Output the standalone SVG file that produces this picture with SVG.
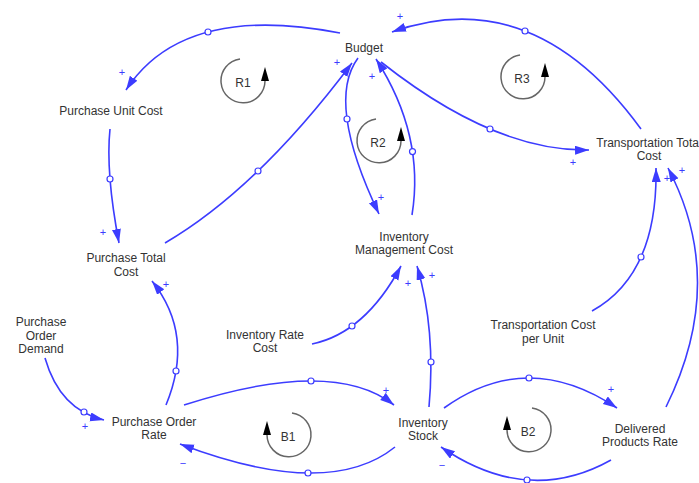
<svg xmlns="http://www.w3.org/2000/svg" width="699" height="483" viewBox="0 0 699 483">
<defs>
<style>
.lbl{font-family:"Liberation Sans",Arial,sans-serif;font-size:12px;fill:#333;text-anchor:middle}
.lk{fill:none;stroke:#3c3cff;stroke-width:1.6;marker-end:url(#arr)}
.dot{fill:#fff;stroke:#3c3cff;stroke-width:1.2}
.pol{font-family:"Liberation Sans",Arial,sans-serif;font-size:11px;fill:#3c3cff;text-anchor:middle}
.loop{fill:none;stroke:#666;stroke-width:1.5}
.lh{fill:#000}
</style>
<marker id="arr" markerUnits="userSpaceOnUse" markerWidth="15" markerHeight="10" refX="14" refY="4.5" orient="auto">
<path d="M0,0 L14,4.5 L0,9 z" fill="#3c3cff"/>
</marker>
</defs>
<rect width="699" height="483" fill="#fff"/>
<g id="connectors">
<path class="lk" d="M340,33 Q183,2.5 126,90"/>
<path class="lk" d="M110,129 Q105.5,172 119,243"/>
<path class="lk" d="M165,243 Q257.5,189 352,63"/>
<path class="lk" d="M358,58 Q325.5,102 379,214"/>
<path class="lk" d="M412,215 Q425,135 376,59"/>
<path class="lk" d="M381,62 Q495,152 589,150"/>
<path class="lk" d="M641,129 Q533.5,-18.5 392,32"/>
<path class="lk" d="M592,311 Q658,274.5 656,168"/>
<path class="lk" d="M666,407 Q728,282 668,168"/>
<path class="lk" d="M45,358 Q60,410 104,420"/>
<path class="lk" d="M166,405 Q195,335 152,281"/>
<path class="lk" d="M184,405 Q333,357 394,405"/>
<path class="lk" d="M395,447 Q328.5,500.5 180,444"/>
<path class="lk" d="M312,344 Q365,333 401,266"/>
<path class="lk" d="M429,407 Q436,330 417,266"/>
<path class="lk" d="M444,408 Q527.5,348 617,408"/>
<path class="lk" d="M611,460 Q528,506.5 441,447"/>
<circle class="dot" cx="208" cy="32" r="3"/>
<circle class="dot" cx="110" cy="179" r="3"/>
<circle class="dot" cx="258" cy="171" r="3"/>
<circle class="dot" cx="347" cy="119" r="3"/>
<circle class="dot" cx="412.5" cy="151.6" r="3"/>
<circle class="dot" cx="490" cy="129" r="3"/>
<circle class="dot" cx="525" cy="31" r="3"/>
<circle class="dot" cx="641" cy="257" r="3"/>
<circle class="dot" cx="84" cy="412" r="3"/>
<circle class="dot" cx="176" cy="371" r="3"/>
<circle class="dot" cx="311" cy="381" r="3"/>
<circle class="dot" cx="308" cy="473" r="3"/>
<circle class="dot" cx="352" cy="326" r="3"/>
<circle class="dot" cx="431" cy="362" r="3"/>
<circle class="dot" cx="529" cy="378" r="3"/>
<circle class="dot" cx="527" cy="480" r="3"/>
<text class="pol" x="122" y="76">+</text>
<text class="pol" x="103" y="236">+</text>
<text class="pol" x="337" y="66">+</text>
<text class="pol" x="381" y="201">+</text>
<text class="pol" x="372" y="80">+</text>
<text class="pol" x="400" y="20">+</text>
<text class="pol" x="573" y="166">+</text>
<text class="pol" x="667" y="182">+</text>
<text class="pol" x="682" y="174">+</text>
<text class="pol" x="85" y="430">+</text>
<text class="pol" x="166" y="288">+</text>
<text class="pol" x="386" y="394">+</text>
<text class="pol" x="183" y="467">−</text>
<text class="pol" x="408" y="287">+</text>
<text class="pol" x="432" y="279">+</text>
<text class="pol" x="611" y="393">+</text>
<text class="pol" x="442" y="469">−</text>
</g>
<g id="loop-R1">
<path class="loop" d="M240,59 A22,22 0 1 0 265,81"/>
<polygon class="lh" points="261,81 269,81 265,67"/>
<text class="lbl" x="243" y="87">R1</text>
</g>
<g id="loop-R2">
<path class="loop" d="M376,119 A22,22 0 1 0 401,141"/>
<polygon class="lh" points="397,141 405,141 401,127"/>
<text class="lbl" x="378" y="147">R2</text>
</g>
<g id="loop-R3">
<path class="loop" d="M520,55 A22,22 0 1 0 545,77"/>
<polygon class="lh" points="541,77 549,77 545,63"/>
<text class="lbl" x="522" y="83">R3</text>
</g>
<g id="loop-B1">
<path class="loop" d="M292,413 A22,22 0 1 1 267,435"/>
<polygon class="lh" points="263,435 271,435 267,421"/>
<text class="lbl" x="288" y="441">B1</text>
</g>
<g id="loop-B2">
<path class="loop" d="M532,408 A22,22 0 1 1 507,430"/>
<polygon class="lh" points="503,430 511,430 507,416"/>
<text class="lbl" x="528" y="436">B2</text>
</g>
<g id="node-budget"><text class="lbl" x="364" y="52">Budget</text></g>
<g id="node-purchase-unit-cost"><text class="lbl" x="111" y="115">Purchase Unit Cost</text></g>
<g id="node-purchase-total-cost"><text class="lbl" x="126" y="262">Purchase Total</text><text class="lbl" x="126" y="276">Cost</text></g>
<g id="node-purchase-order-demand"><text class="lbl" x="41" y="326">Purchase</text><text class="lbl" x="41" y="339.5">Order</text><text class="lbl" x="41" y="353">Demand</text></g>
<g id="node-inventory-rate-cost"><text class="lbl" x="265" y="339">Inventory Rate</text><text class="lbl" x="265" y="352">Cost</text></g>
<g id="node-purchase-order-rate"><text class="lbl" x="154" y="426">Purchase Order</text><text class="lbl" x="154" y="439">Rate</text></g>
<g id="node-inventory-stock"><text class="lbl" x="423" y="427">Inventory</text><text class="lbl" x="423" y="440">Stock</text></g>
<g id="node-delivered-products-rate"><text class="lbl" x="640" y="433">Delivered</text><text class="lbl" x="640" y="446">Products Rate</text></g>
<g id="node-transportation-cost-per-unit"><text class="lbl" x="543" y="329">Transportation Cost</text><text class="lbl" x="543" y="343">per Unit</text></g>
<g id="node-inventory-management-cost"><text class="lbl" x="404" y="241">Inventory</text><text class="lbl" x="404" y="254">Management Cost</text></g>
<g id="node-transportation-total-cost"><text class="lbl" x="649" y="147">Transportation Total</text><text class="lbl" x="649" y="160">Cost</text></g>
</svg>
